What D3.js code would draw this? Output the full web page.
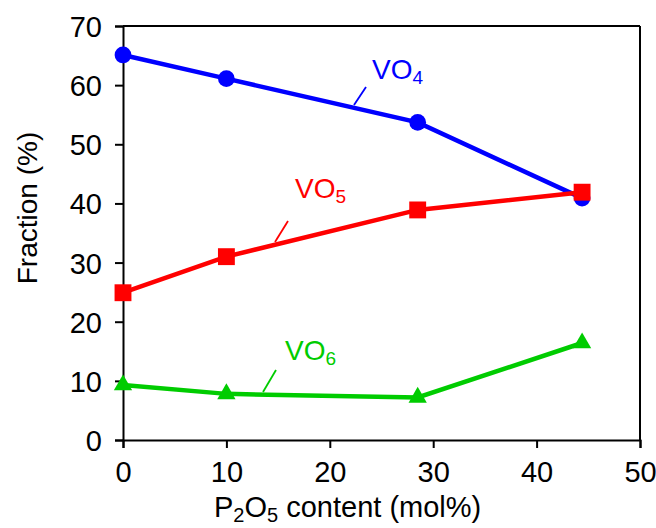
<!DOCTYPE html>
<html>
<head>
<meta charset="utf-8">
<script src="https://cdn.jsdelivr.net/npm/d3@7"></script>
<style>
  body { margin: 0; background: #fff; }
  text { font-family: Arial, "Liberation Sans", sans-serif; }
</style>
</head>
<body>
<div class="viz"></div>
<script>
// Data
const p2o5 = [0, 10, 28.5, 44.4];
const vo4 = [65.1, 61.1, 53.7, 40.9];
const vo5 = [24.9, 31.0, 38.9, 41.9];
const vo6 = [9.3, 7.8, 7.2, 16.4];
const xTicks = [0, 10, 20, 30, 40, 50];
const yTicks = [0, 10, 20, 30, 40, 50, 60, 70];

const totalWidth = 656;
const totalHeight = 528;
const margin = { top: 26, right: 16, bottom: 88, left: 123 };
const width = totalWidth - margin.left - margin.right;
const height = totalHeight - margin.top - margin.bottom;

const svg = d3
  .select(".viz")
  .append("svg")
  .attr("width", totalWidth)
  .attr("height", totalHeight);

const g = svg
  .append("g")
  .attr("transform", `translate(${margin.left},${margin.top})`);

// Scales
const xScale = d3.scaleLinear().domain([0, 50]).range([0, width]);
const yScale = d3.scaleLinear().domain([0, 70]).range([height, 0]);

// Frame (top and right)
g.append("line")
  .attr("x1", 0).attr("x2", width)
  .attr("y1", 0).attr("y2", 0)
  .attr("stroke", "#000").attr("stroke-width", 2);
g.append("line")
  .attr("x1", width).attr("x2", width)
  .attr("y1", 0).attr("y2", height)
  .attr("stroke", "#000").attr("stroke-width", 2);

// Axes
const xAxis = g
  .append("g")
  .attr("transform", `translate(0,${height})`)
  .call(d3.axisBottom(xScale).tickValues(xTicks).tickSize(8).tickPadding(13));
const yAxis = g
  .append("g")
  .call(d3.axisLeft(yScale).tickValues(yTicks).tickSize(8).tickPadding(13));

[xAxis, yAxis].forEach((ax) => {
  ax.select(".domain").attr("stroke", "#000").attr("stroke-width", 2);
  ax.selectAll(".tick line").attr("stroke", "#000").attr("stroke-width", 2);
  ax.selectAll(".tick text")
    .attr("fill", "#000")
    .style("font-size", "29px")
    .style("font-family", "Arial, 'Liberation Sans', sans-serif");
});
yAxis.selectAll(".tick text").attr("dy", "0.36em");

// Series
const series = [
  { name: "VO", sub: "4", values: vo4, color: "#0000ff", shape: "circle" },
  { name: "VO", sub: "5", values: vo5, color: "#ff0000", shape: "square" },
  { name: "VO", sub: "6", values: vo6, color: "#00cc00", shape: "triangle" },
];

const line = d3
  .line()
  .x((d) => xScale(d[0]))
  .y((d) => yScale(d[1]));

const symbolFor = {
  circle: d3.symbol().type(d3.symbolCircle).size(220),
  square: d3.symbol().type(d3.symbolSquare).size(285),
  triangle: d3.symbol().type(d3.symbolTriangle).size(145),
};

series.forEach((s) => {
  const pts = p2o5.map((x, i) => [x, s.values[i]]);
  g.append("path")
    .datum(pts)
    .attr("d", line)
    .attr("fill", "none")
    .attr("stroke", s.color)
    .attr("stroke-width", 4.5);
  g.selectAll(null)
    .data(pts)
    .enter()
    .append("path")
    .attr("d", symbolFor[s.shape])
    .attr("transform", (d) => `translate(${xScale(d[0])},${yScale(d[1])})`)
    .attr("fill", s.color);
});

// Series labels with leader lines (absolute page coords)
const labels = [
  { s: series[0], x: 372, y: 79, lx1: 366, ly1: 87, lx2: 354, ly2: 105 },
  { s: series[1], x: 295, y: 198, lx1: 288, ly1: 221, lx2: 275, ly2: 242 },
  { s: series[2], x: 285, y: 360, lx1: 276, ly1: 370, lx2: 263, ly2: 392 },
];

labels.forEach((l) => {
  svg.append("line")
    .attr("x1", l.lx1).attr("y1", l.ly1)
    .attr("x2", l.lx2).attr("y2", l.ly2)
    .attr("stroke", l.s.color)
    .attr("stroke-width", 1.8);
  const t = svg.append("text")
    .attr("x", l.x)
    .attr("y", l.y)
    .attr("fill", l.s.color)
    .style("font-size", "28px");
  t.append("tspan").text(l.s.name);
  t.append("tspan")
    .attr("dy", 5)
    .style("font-size", "19px")
    .text(l.s.sub);
});

// Axis titles
const xTitle = svg.append("text")
  .attr("x", 214)
  .attr("y", 517)
  .attr("fill", "#000")
  .style("font-size", "29px");
xTitle.append("tspan").text("P");
xTitle.append("tspan").attr("dy", 5).style("font-size", "20px").text("2");
xTitle.append("tspan").attr("dy", -5).text("O");
xTitle.append("tspan").attr("dy", 5).style("font-size", "20px").text("5");
xTitle.append("tspan").attr("dy", -5).text(" content (mol%)");

svg.append("text")
  .attr("transform", "translate(37,208) rotate(-90)")
  .attr("text-anchor", "middle")
  .attr("fill", "#000")
  .style("font-size", "28px")
  .text("Fraction (%)");
</script>
</body>
</html>
